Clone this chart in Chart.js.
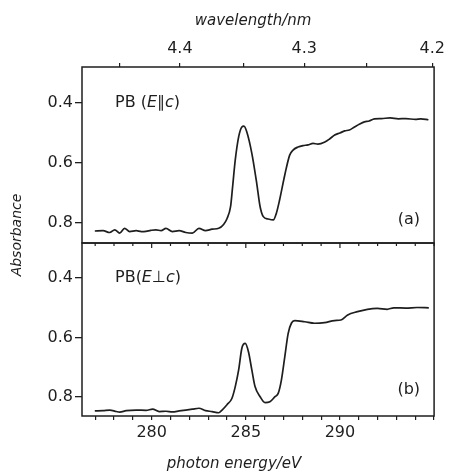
<!DOCTYPE html>
<html><head><meta charset="utf-8">
<script src="https://cdn.jsdelivr.net/npm/chart.js@4"></script>
<style>html,body{margin:0;padding:0;background:#fff}#w{width:450px;height:473px;position:relative}</style>
</head><body><div id="w"><canvas id="c" width="450" height="473"></canvas></div>
<script>
// ---- data ----
const energyA = [276.98,277.42,277.77,278.04,278.3,278.56,278.83,279.18,279.45,279.7,279.95,280.23,280.5,280.76,281.1,281.46,281.81,282.16,282.51,282.86,283.21,283.56,283.82,284.0,284.19,284.3,284.44,284.62,284.79,284.9,285.05,285.32,285.58,285.76,285.93,286.19,286.46,286.63,286.8,287.07,287.33,287.51,287.77,288.04,288.3,288.57,288.83,289.2,289.45,289.72,290.0,290.25,290.5,290.77,291.05,291.3,291.55,291.83,292.2,292.67,293.1,293.5,294.0,294.3,294.7];
const absA    = [0.827,0.826,0.832,0.823,0.834,0.818,0.829,0.826,0.829,0.828,0.825,0.823,0.826,0.818,0.829,0.826,0.832,0.834,0.818,0.826,0.821,0.818,0.805,0.786,0.746,0.679,0.59,0.513,0.48,0.477,0.496,0.568,0.668,0.746,0.779,0.787,0.79,0.766,0.722,0.64,0.574,0.557,0.547,0.542,0.54,0.535,0.537,0.53,0.52,0.507,0.5,0.493,0.49,0.48,0.47,0.463,0.46,0.453,0.452,0.45,0.453,0.452,0.455,0.453,0.456];
const energyB = [276.98,277.42,277.77,278.12,278.3,278.65,279.18,279.7,280.05,280.4,280.76,281.1,281.46,281.81,282.16,282.51,282.86,283.21,283.56,283.74,284.0,284.26,284.44,284.62,284.79,284.97,285.14,285.32,285.49,285.76,286.02,286.28,286.55,286.72,286.89,287.07,287.25,287.42,287.6,288.13,288.65,289.18,289.71,290.05,290.41,290.93,291.46,291.98,292.51,292.86,293.5,294.1,294.72];
const absB    = [0.847,0.846,0.844,0.849,0.851,0.846,0.844,0.845,0.841,0.849,0.848,0.85,0.847,0.844,0.841,0.838,0.846,0.849,0.853,0.844,0.826,0.805,0.765,0.709,0.636,0.62,0.648,0.709,0.765,0.799,0.819,0.816,0.799,0.788,0.743,0.665,0.586,0.552,0.543,0.547,0.552,0.55,0.543,0.541,0.524,0.513,0.505,0.502,0.505,0.5,0.501,0.499,0.5];
const bottomLabelTicks = [280,285,290];
const topTickEnergy = [278.3,281.5,284.9,288.1,291.4,294.9];
const topTickLabels = ['','4.4','','4.3','','4.2'];
const yTicks = [0.4,0.6,0.8];
const xRange = [276.3,295.0];
const rangeA = [0.28,0.867];
const rangeB = [0.282,0.864];
const panelLabelA = ['PB (','E\u2225c',')'];
const panelLabelB = ['PB(','E\u22A5c',')'];

const INK = '#1e1e1e';
const FAM = '"DejaVu Sans", sans-serif';
const minorX = [];
for (let v = Math.ceil(xRange[0]); v <= Math.floor(xRange[1]); v++) minorX.push(v);

const framePlugin = {
  id: 'frame',
  afterDraw(chart) {
    const c = chart.ctx, a = chart.chartArea, x = chart.scales.x;
    c.save();
    c.strokeStyle = INK; c.lineWidth = 1.5;
    ['ya','yb'].forEach(id => {
      const s = chart.scales[id];
      c.strokeRect(a.left, s.top, a.right - a.left, s.bottom - s.top);
    });
    const yb = chart.scales.yb;
    c.lineWidth = 1.2;
    minorX.forEach(v => {
      const px = x.getPixelForValue(v);
      const len = bottomLabelTicks.includes(v) ? 5 : 3;
      c.beginPath(); c.moveTo(px, yb.top); c.lineTo(px, yb.top + len); c.stroke();
    });
    c.fillStyle = INK;
    c.textBaseline = 'middle';
    c.textAlign = 'center';
    c.font = 'italic 15px ' + FAM;
    c.fillText('wavelength/nm', (a.left + a.right) / 2 - 5, 21);
    c.fillText('photon energy/eV', a.left + 152, 464);
    c.save();
    c.translate(17, 235); c.rotate(-Math.PI / 2);
    c.font = 'italic 14px ' + FAM;
    c.fillText('Absorbance', 0, 0);
    c.restore();
    const ya = chart.scales.ya;
    function mixed(parts, x0, y0) {
      let cx = x0;
      c.textAlign = 'left';
      parts.forEach((p, i) => {
        c.font = (i === 1 ? 'italic ' : '') + '16px ' + FAM;
        c.fillText(p, cx, y0);
        cx += c.measureText(p).width;
      });
    }
    mixed(panelLabelA, a.left + 33, ya.top + 36);
    mixed(panelLabelB, a.left + 33, yb.top + 35);
    c.textAlign = 'right';
    c.font = '16px ' + FAM;
    c.fillText('(a)', a.right - 14, ya.bottom - 23);
    c.fillText('(b)', a.right - 14, yb.bottom - 26);
    c.restore();
  }
};

const yCommon = (range, weight) => ({
  type: 'linear', position: 'left', stack: 'panels', stackWeight: weight,
  reverse: true, min: range[0], max: range[1],
  afterFit: s => { s.width = 82; },
  afterBuildTicks: s => { s.ticks = yTicks.map(v => ({ value: v })); },
  ticks: { color: INK, font: { family: FAM, size: 16 }, padding: 2, callback: v => Number(v).toFixed(1) },
  grid: { drawOnChartArea: false, tickLength: 7, color: INK, lineWidth: 1.3 },
  border: { display: false }
});

new Chart(document.getElementById('c'), {
  type: 'line',
  data: {
    datasets: [
      { label: 'E\u22A5c', data: energyB.map((e, i) => ({ x: e, y: absB[i] })), xAxisID: 'x', yAxisID: 'yb',
        borderColor: INK, borderWidth: 1.7, pointRadius: 0, tension: 0.25, cubicInterpolationMode: 'monotone', fill: false },
      { label: 'E\u2225c', data: energyA.map((e, i) => ({ x: e, y: absA[i] })), xAxisID: 'x', yAxisID: 'ya',
        borderColor: INK, borderWidth: 1.7, pointRadius: 0, tension: 0.25, cubicInterpolationMode: 'monotone', fill: false }
    ]
  },
  options: {
    responsive: false, animation: false, devicePixelRatio: 1,
    layout: { padding: { left: 0, right: 13, top: 0, bottom: 0 } },
    plugins: { legend: { display: false }, tooltip: { enabled: false } },
    scales: {
      x: {
        type: 'linear', position: 'bottom', min: xRange[0], max: xRange[1],
        afterFit: s => { s.height = 57; },
        afterBuildTicks: s => { s.ticks = minorX.map(v => ({ value: v })); },
        ticks: { autoSkip: false, maxRotation: 0, padding: 3, color: INK, font: { family: FAM, size: 16 },
                 callback: v => bottomLabelTicks.includes(v) ? String(v) : '' },
        grid: { drawOnChartArea: false, tickLength: 4, color: INK, lineWidth: 1.2 },
        border: { display: false }
      },
      xt: {
        type: 'linear', position: 'top', min: xRange[0], max: xRange[1],
        afterFit: s => { s.height = 67; },
        afterBuildTicks: s => { s.ticks = topTickEnergy.map(v => ({ value: v })); },
        ticks: { autoSkip: false, maxRotation: 0, padding: 5, color: INK, font: { family: FAM, size: 16 },
                 callback: (v, i) => topTickLabels[i] },
        grid: { drawOnChartArea: false, tickLength: 4, color: INK, lineWidth: 1.2 },
        border: { display: false }
      },
      yb: yCommon(rangeB, 173),
      ya: yCommon(rangeA, 176)
    }
  },
  plugins: [framePlugin]
});
</script></body></html>
